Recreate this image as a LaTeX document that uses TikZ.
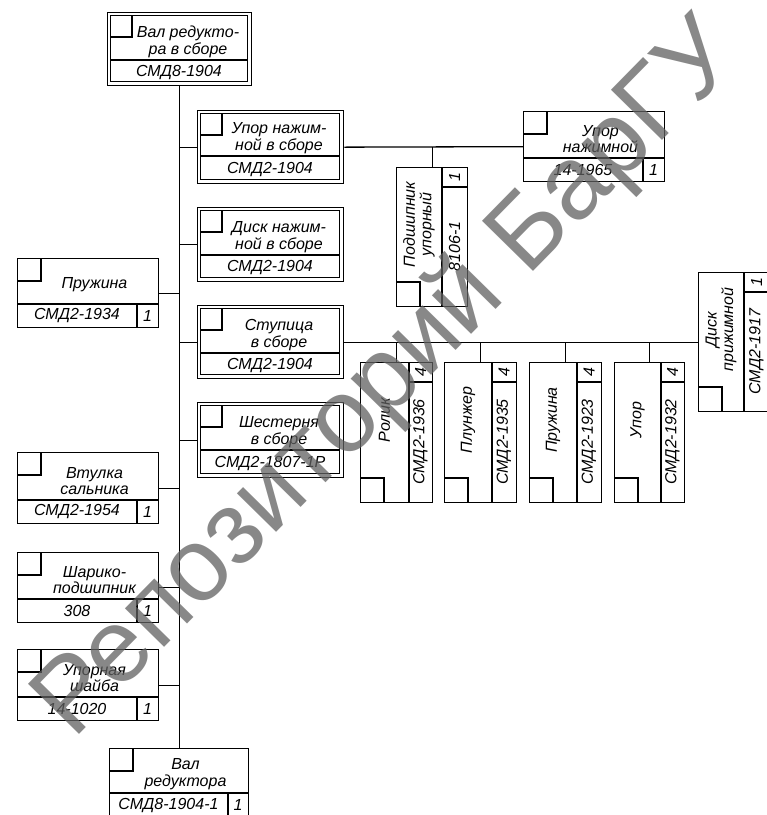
\documentclass[tikz,border=0pt]{standalone}
\usepackage{fontspec}
\setmainfont{Liberation Sans}
\tikzset{
  frame/.style={draw, line width=1.3pt, inner sep=0pt, anchor=north west},
  ln/.style={line width=1.3pt},
  lbl/.style={font=\fontsize{16}{16.5}\selectfont\itshape, inner sep=0pt, align=center},
  vlbl/.style={lbl, rotate=90},
  conn/.style={line width=1.3pt},
  wmark/.style={font=\fontsize{104}{104}\selectfont, text=black!62, opacity=0.75, rotate=45.5, inner sep=0pt}
}
% assembly box with double frame: name, x1, y1, x2, y2, ydiv, text, code
\newcommand\asmbox[8]{%
  \pgfmathsetmacro\bw{#4-#2}\pgfmathsetmacro\bh{#5-#3}%
  \pgfmathsetmacro\tx{(#2+#4)/2+9}\pgfmathsetmacro\cx{(#2+#4)/2}%
  \pgfmathsetmacro\ty{#6-18}\pgfmathsetmacro\cy{(#6+#5)/2}%
  \node[frame, minimum width=\bw pt, minimum height=\bh pt] (#1) at (#2,#3) {};
  \draw[ln] (#2+3.5,#3+3.5) rectangle (#4-3.5,#5-3.5);
  \draw[ln] (#2+3.5,#6) -- (#4-3.5,#6);
  \draw[ln] (#2+3.5,#3+25) -| (#2+25,#3+3.5);
  \node[lbl] at (\tx,\ty) {#7};
  \node[lbl] at (\cx,\cy) {#8};
}
% part box, horizontal: name, x1, y1, x2, y2, ydiv, xq, text, code
\newcommand\partbox[9]{%
  \pgfmathsetmacro\bw{#4-#2}\pgfmathsetmacro\bh{#5-#3}%
  \pgfmathsetmacro\tx{(#2+#4)/2+7}\pgfmathsetmacro\cx{(#2+#7)/2}%
  \pgfmathsetmacro\qx{(#7+#4)/2}%
  \pgfmathsetmacro\ty{#6-19}\pgfmathsetmacro\cy{(#6+#5)/2}%
  \node[frame, minimum width=\bw pt, minimum height=\bh pt] (#1) at (#2,#3) {};
  \draw[ln] (#2,#6) -- (#4,#6);
  \draw[ln] (#7,#6) -- (#7,#5);
  \draw[ln] (#2,#3+23) -| (#2+24,#3);
  \node[lbl] at (\tx,\ty) {#8};
  \node[lbl] at (\cx,\cy) {#9};
  \node[lbl] at (\qx,\cy) {1};
}
% part box, vertical: name, x1, y1, x2, y2, xdiv, text, code, qty
\newcommand\vpart[9]{%
  \pgfmathsetmacro\bw{#4-#2}\pgfmathsetmacro\bh{#5-#3}%
  \pgfmathsetmacro\tx{(#2+#6)/2}\pgfmathsetmacro\ty{(#3+#5-24)/2}%
  \pgfmathsetmacro\cx{(#6+#4)/2}\pgfmathsetmacro\cy{(#3+20+#5)/2}%
  \pgfmathsetmacro\qy{#3+10}%
  \node[frame, minimum width=\bw pt, minimum height=\bh pt] (#1) at (#2,#3) {};
  \draw[ln] (#6,#3) -- (#6,#5);
  \draw[ln] (#6,#3+20) -- (#4,#3+20);
  \draw[ln] (#2,#5-24) -| (#2+24,#5);
  \node[vlbl] at (\tx,\ty) {#7};
  \node[vlbl] at (\cx,\cy) {#8};
  \node[vlbl] at (\cx,\qy) {#9};
}
\begin{document}
\begin{tikzpicture}[x=1pt,y=-1pt]
\useasboundingbox (0,0) rectangle (767,815);
\clip (0,0) rectangle (767,815);
\fill[white] (0,0) rectangle (767,815);

% assemblies
\asmbox{top}{107}{12}{251}{85}{60}{Вал редукто-\\ра в сборе}{СМД8-1904}
\asmbox{a1}{197}{110}{343}{183}{156}{Упор нажим-\\ной в сборе}{СМД2-1904}
\asmbox{a2}{197}{207}{343}{281}{255}{Диск нажим-\\ной в сборе}{СМД2-1904}
\asmbox{a3}{197}{305}{343}{378}{353}{Ступица\\в сборе}{СМД2-1904}
\asmbox{a4}{197}{402}{343}{477}{450}{Шестерня\\в сборе}{СМД2-1807-1Р}

% horizontal parts
\partbox{u}{523}{111}{664}{181}{158}{643}{Упор\\нажимной}{14-1965}
\partbox{p1}{17}{258}{158}{327}{304}{137}{Пружина}{СМД2-1934}
\partbox{p2}{17}{452}{158}{523}{500}{137}{Втулка\\сальника}{СМД2-1954}
\partbox{p3}{17}{552}{158}{622}{599}{137}{Шарико-\\подшипник}{308}
\partbox{p4}{17}{649}{158}{720}{697}{137}{Упорная\\шайба}{14-1020}
\partbox{bot}{109}{748}{248}{817}{793}{228}{Вал\\редуктора}{СМД8-1904-1}

% vertical parts
\vpart{b}{396}{167}{467}{306}{442}{Подшипник\\упорный}{8106-1}{1}
\vpart{r1}{360}{362}{432}{502}{409}{Ролик}{СМД2-1936}{4}
\vpart{r2}{444}{362}{516}{502}{492}{Плунжер}{СМД2-1935}{4}
\vpart{r3}{529}{362}{601}{502}{577}{Пружина}{СМД2-1923}{4}
\vpart{r4}{614}{362}{684}{502}{661}{Упор}{СМД2-1932}{4}
\vpart{d}{698}{272}{769}{411}{744}{Диск\\прижимной}{СМД2-1917}{1}

% connectors
\draw[conn] (top.south) -- (top.south |- bot.north);
\foreach \n in {a1,a2,a3,a4} \draw[conn] (\n.west) -- (\n.west -| top.south);
\foreach \n in {p1,p2,p3,p4} \draw[conn] (\n.east) -- (\n.east -| top.south);
\draw[conn] (a1.east) -- (u.west);
\draw[conn] (b.north) -- (b.north |- a1.east);
\draw[conn] (a3.east) -- (d.west);
\foreach \n in {r1,r2,r3,r4} \draw[conn] (\n.north) -- (\n.north |- a3.east);

% watermark
\node[wmark] (wm) at (388,380) {Репозиторий БарГУ};
\end{tikzpicture}
\end{document}
